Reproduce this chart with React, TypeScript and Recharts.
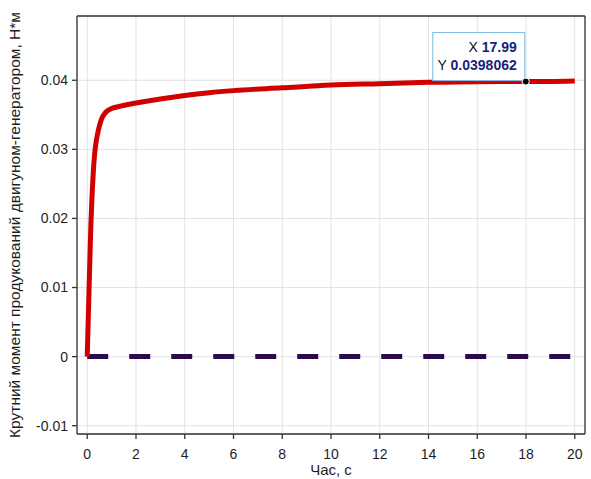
import React from "react"
import {
	LineChart,
	Line,
	XAxis,
	YAxis,
	CartesianGrid,
	ReferenceDot,
} from "recharts"

// час, с
const time = [
	0, 0.05, 0.1, 0.15, 0.2, 0.25, 0.3, 0.4, 0.5, 0.6, 0.7, 0.8, 1.0, 1.3, 2, 3, 4, 5,
	6, 8, 10, 12, 14, 16, 17.99, 20,
]
// крутний момент, Н*м
const torque = [
	0, 0.0065, 0.013, 0.0192, 0.0235, 0.0268, 0.0292, 0.0318, 0.0334, 0.0345,
	0.0351, 0.0355, 0.0359, 0.0362, 0.0367, 0.0373, 0.0378, 0.0382, 0.0385,
	0.0389, 0.0393, 0.0395, 0.0397, 0.0398, 0.0398062, 0.0399,
]
const refTime = [0, 20]
const refTorque = [0, 0]

const xTicks = [0, 2, 4, 6, 8, 10, 12, 14, 16, 18, 20]
const yTicks = [-0.01, 0, 0.01, 0.02, 0.03, 0.04]

const tipX = 17.99
const tipY = 0.0398062

const torqueData = time.map((t, i) => ({ t, v: torque[i] }))
const refData = refTime.map((t, i) => ({ t, v: refTorque[i] }))

const font = "Liberation Sans, Arial, sans-serif"
const axisColor = "#333"
const tickStyle = { fontSize: 14, fill: "#1e1e1e", fontFamily: font }

const DataTip = (props: any) => {
	const { cx, cy } = props
	return (
		<g>
			<rect
				x={cx - 93}
				y={cy - 49}
				width={92}
				height={48}
				fill='#fff'
				stroke='#7ab8e4'
				strokeWidth={1}
			/>
			<text
				x={cx - 9}
				y={cy - 30}
				textAnchor='end'
				fontSize={14}
				fontFamily={font}>
				<tspan fill='#111'>X </tspan>
				<tspan fill='#1a1f7a' fontWeight='bold'>
					{tipX}
				</tspan>
			</text>
			<text
				x={cx - 9}
				y={cy - 12}
				textAnchor='end'
				fontSize={14}
				fontFamily={font}>
				<tspan fill='#111'>Y </tspan>
				<tspan fill='#1a1f7a' fontWeight='bold'>
					{tipY}
				</tspan>
			</text>
			<circle cx={cx} cy={cy} r={3.5} fill='#000' stroke='#fff' strokeWidth={1} />
		</g>
	)
}

const App = () => {
	return (
		<div
			style={{
				position: "absolute",
				left: 0,
				top: 0,
				background: "#fff",
				fontFamily: font,
			}}>
			<LineChart
				width={591}
				height={479}
				margin={{ top: 15, right: 5, bottom: 0, left: 0 }}
				style={{ fontFamily: font }}>
				<CartesianGrid stroke='#e2e2e2' strokeWidth={1} />
				<XAxis
					dataKey='t'
					type='number'
					domain={[-0.42, 20.42]}
					ticks={xTicks}
					allowDataOverflow
					height={45}
					stroke={axisColor}
					strokeWidth={1.3}
					tickSize={5}
					tickMargin={10}
					fontSize={14}
					tick={tickStyle}
					label={{
						value: "Час, с",
						position: "insideBottom",
						offset: 4,
						fontSize: 15,
						style: { fontSize: 15, fill: "#1e1e1e", fontFamily: font },
					}}
				/>
				<XAxis
					xAxisId='top'
					orientation='top'
					dataKey='t'
					type='number'
					domain={[-0.42, 20.42]}
					ticks={xTicks}
					allowDataOverflow
					height={1}
					stroke={axisColor}
					strokeWidth={1.3}
					tickSize={5}
					tick={false}
				/>
				<YAxis
					type='number'
					domain={[-0.0112, 0.0493]}
					ticks={yTicks}
					allowDataOverflow
					width={77}
					stroke={axisColor}
					strokeWidth={1.3}
					tickSize={5}
					tickMargin={4}
					fontSize={14}
					tick={tickStyle}
					tickFormatter={(v: number) => (v === 0 ? "0" : String(v))}
					label={{
						value: "Крутний момент продукований двигуном-генератором, Н*м",
						angle: -90,
						position: "center",
						dx: -24,
						fontSize: 15.5,
						style: {
							fontSize: 15.5,
							fill: "#1e1e1e",
							fontFamily: font,
							textAnchor: "middle",
						},
					}}
				/>
				<YAxis
					yAxisId='right'
					orientation='right'
					type='number'
					domain={[-0.0112, 0.0493]}
					ticks={yTicks}
					allowDataOverflow
					width={1}
					stroke={axisColor}
					strokeWidth={1.3}
					tickSize={5}
					tick={false}
				/>
				<Line
					data={refData}
					dataKey='v'
					type='linear'
					stroke='#2c0a4e'
					strokeWidth={5}
					strokeDasharray='21 21'
					dot={false}
					activeDot={false}
					isAnimationActive={false}
				/>
				<Line
					data={torqueData}
					dataKey='v'
					type='monotone'
					stroke='#d00000'
					strokeWidth={5}
					dot={false}
					activeDot={false}
					isAnimationActive={false}
				/>
				<ReferenceDot x={tipX} y={tipY} shape={DataTip} />
			</LineChart>
		</div>
	)
}

export default App
